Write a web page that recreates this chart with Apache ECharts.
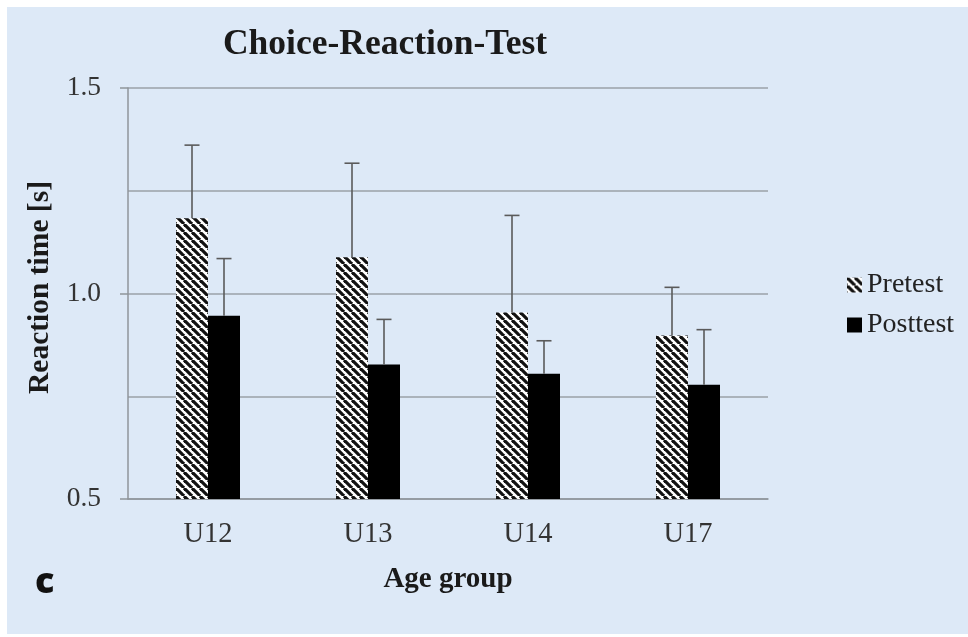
<!DOCTYPE html>
<html>
<head>
<meta charset="utf-8">
<script src="https://cdn.jsdelivr.net/npm/echarts@6/dist/echarts.min.js"></script>
<style>
html,body{margin:0;padding:0;background:#ffffff;}
#chart{width:968px;height:637px;}
</style>
</head>
<body>
<div id="chart"></div>
<script>
// ---- data ----
var categories = ['U12', 'U13', 'U14', 'U17'];
var pretest = [1.183, 1.088, 0.954, 0.898];
var posttest = [0.946, 0.827, 0.805, 0.778];
var pretestSd = [0.178, 0.229, 0.236, 0.117];
var posttestSd = [0.139, 0.110, 0.080, 0.134];
var yTicks = [0.5, 1.0, 1.5];

// hatch pattern (diagonal "\" stripes)
function makeHatch() {
  var s = 8;
  var c = document.createElement('canvas');
  c.width = s; c.height = s;
  var ctx = c.getContext('2d');
  ctx.fillStyle = '#ffffff';
  ctx.fillRect(0, 0, s, s);
  ctx.strokeStyle = '#111111';
  ctx.lineWidth = 3.2;
  [-s, 0, s].forEach(function (k) {
    ctx.beginPath();
    ctx.moveTo(k, 0);
    ctx.lineTo(k + s, s);
    ctx.stroke();
  });
  return c;
}
var hatch = { image: makeHatch(), repeat: 'repeat' };

var serif = '"Liberation Serif", "Times New Roman", serif';
var chart = echarts.init(document.getElementById('chart'), null, { renderer: 'canvas' });

var BAR_W = 32;
function errorSeries(name, means, sds, side) {
  return {
    type: 'custom',
    name: name + ' SD',
    z: 5,
    silent: true,
    data: means.map(function (m, i) { return [i, m, m + sds[i]]; }),
    renderItem: function (params, api) {
      var base = api.coord([api.value(0), api.value(1)]);
      var top = api.coord([api.value(0), api.value(2)]);
      var x = base[0] + side * BAR_W / 2;
      var cap = 7.5;
      var st = { stroke: '#5a5a5a', lineWidth: 1.6 };
      return {
        type: 'group',
        children: [
          { type: 'line', shape: { x1: x, y1: base[1], x2: x, y2: top[1] }, style: st },
          { type: 'line', shape: { x1: x - cap, y1: top[1], x2: x + cap, y2: top[1] }, style: st }
        ]
      };
    }
  };
}

chart.setOption({
  backgroundColor: '#ffffff',
  animation: false,
  graphic: [
    { type: 'rect', z: -10, shape: { x: 7, y: 7, width: 961, height: 627 }, style: { fill: '#dde9f7' } },
    { type: 'text', left: 35, top: 565, style: { text: 'c', fill: '#111111', font: '800 36px "Open Sans", "DejaVu Sans", sans-serif' } }
  ],
  title: {
    text: 'Choice-Reaction-Test',
    left: 385,
    textAlign: 'center',
    top: 27,
    padding: 0,
    textStyle: { fontFamily: serif, fontWeight: 'bold', fontSize: 35.5, color: '#1a1a1a' }
  },
  legend: {
    orient: 'vertical',
    left: 842,
    top: 266,
    itemWidth: 15,
    itemHeight: 15,
    itemGap: 12,
    icon: 'rect',
    data: ['Pretest', 'Posttest'],
    textStyle: { fontFamily: serif, fontSize: 28, color: '#222222', padding: [0, 0, 0, 0] }
  },
  grid: { left: 128, right: 200, top: 88, bottom: 138, containLabel: false },
  xAxis: {
    type: 'category',
    data: categories,
    name: 'Age group',
    nameLocation: 'middle',
    nameGap: 66,
    nameTextStyle: { fontFamily: serif, fontWeight: 'bold', fontSize: 29, color: '#1a1a1a' },
    axisLine: { show: true, lineStyle: { color: '#8f959b', width: 1.5 } },
    axisTick: { show: false },
    axisLabel: { fontFamily: serif, fontSize: 28.5, color: '#333333', margin: 21 }
  },
  yAxis: {
    type: 'value',
    min: 0.5,
    max: 1.5,
    interval: 0.5,
    name: 'Reaction time [s]',
    nameLocation: 'middle',
    nameGap: 60,
    nameTextStyle: { fontFamily: serif, fontWeight: 'bold', fontSize: 29.5, color: '#1a1a1a', padding: [0, 0, 0, 12] },
    axisLine: { show: true, lineStyle: { color: '#8f959b', width: 1.5 } },
    axisTick: { show: true, inside: false, length: 8, lineStyle: { color: '#8f959b', width: 1.5 } },
    axisLabel: {
      fontFamily: serif, fontSize: 27.5, color: '#333333', margin: 27,
      formatter: function (v) { return yTicks.indexOf(v) >= 0 ? v.toFixed(1) : ''; }
    },
    splitLine: { show: true, lineStyle: { color: '#9aa1a8', width: 1.5 } },
    minorTick: { show: false, splitNumber: 2 },
    minorSplitLine: { show: true, lineStyle: { color: '#9aa1a8', width: 1.5 } }
  },
  series: [
    {
      name: 'Pretest',
      type: 'bar',
      data: pretest,
      barWidth: BAR_W,
      barGap: '0%',
      itemStyle: { color: hatch },
      z: 3
    },
    {
      name: 'Posttest',
      type: 'bar',
      data: posttest,
      barWidth: BAR_W,
      barGap: '0%',
      itemStyle: { color: '#000000' },
      z: 3
    },
    errorSeries('Pretest', pretest, pretestSd, -1),
    errorSeries('Posttest', posttest, posttestSd, 1)
  ]
});
</script>
</body>
</html>
